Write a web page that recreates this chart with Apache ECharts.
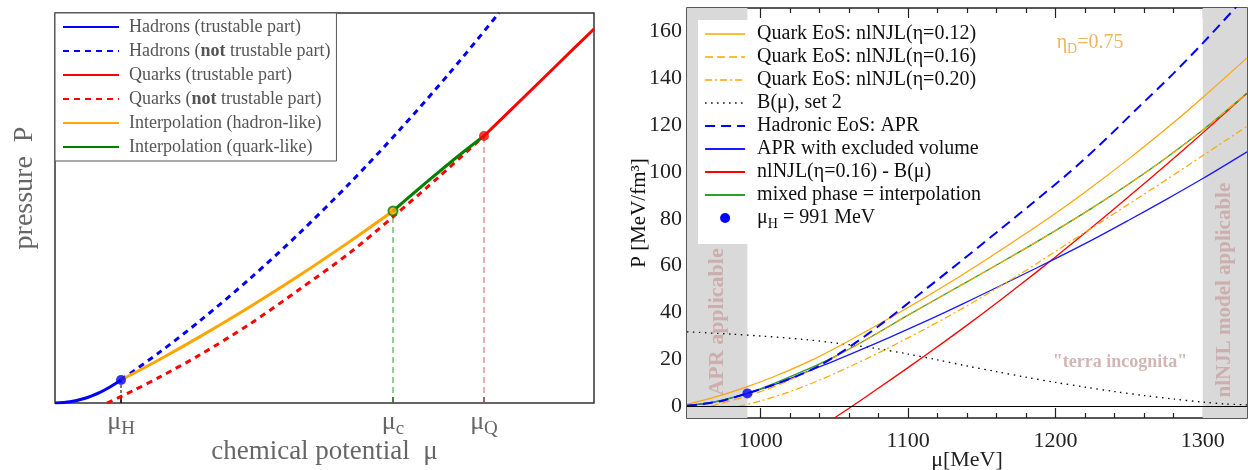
<!DOCTYPE html>
<html>
<head>
<meta charset="utf-8">
<script src="https://cdn.jsdelivr.net/npm/echarts@6/dist/echarts.min.js"></script>
<style>
  html, body { margin: 0; padding: 0; background: #fff; }
  #chart { width: 1248px; height: 470px; }
</style>
</head>
<body>
<div id="chart"></div>
<script>
// ---------- Left panel: schematic P(mu), arbitrary units (0..100 on both axes) ----------
const hadTrustX = [0, 2.78, 5.57, 8.35, 10.2, 12.25];
const hadTrustY = [0, 0.31, 1.22, 2.74, 4.10, 5.90];
const hadNotX = [12.25, 19.48, 26.90, 36.18, 45.45, 54.73, 64.00, 73.28, 82.37];
const hadNotY = [5.90, 13.10, 21.08, 31.90, 43.69, 56.41, 70.10, 84.72, 100];
const interpHadX = [12.25, 19.48, 26.90, 36.18, 45.45, 54.73, 62.71];
const interpHadY = [5.90, 11.23, 17.03, 24.69, 32.82, 41.44, 49.23];
const quarkNotX = [9.65, 14.47, 19.48, 26.90, 36.18, 45.45, 54.73, 62.71, 71.43, 79.59];
const quarkNotY = [0, 3.15, 6.69, 12.36, 20.28, 29.23, 38.56, 47.74, 58.23, 68.46];
const interpQuarkX = [62.71, 66.79, 71.43, 75.51, 79.59];
const interpQuarkY = [49.23, 54.10, 59.49, 64.10, 68.46];
const quarkTrustX = [79.59, 86.27, 93.69, 100];
const quarkTrustY = [68.46, 77.44, 87.44, 95.9];
// special chemical potentials: mu_H, mu_c, mu_Q and the pressure there
const specialX = [12.25, 62.71, 79.59];
const specialY = [5.90, 49.23, 68.46];
const specialSub = ['H', 'c', 'Q'];

// ---------- Right panel: P [MeV/fm^3] vs mu [MeV] ----------
const muEta12 = [950, 970, 991, 1010, 1035, 1060, 1090, 1120, 1150, 1190, 1220, 1250, 1280, 1300, 1330];
const pEta12 = [0.8, 4.1, 8.4, 12.9, 19.8, 28.0, 38.5, 49.6, 61.4, 78.0, 91.4, 105.7, 121.0, 131.8, 148.7];
const muEta16 = [966, 980, 991, 1010, 1030, 1045, 1062, 1080, 1100, 1125, 1150, 1175, 1200, 1225, 1250, 1275, 1300, 1330];
const pEta16 = [0, 2.4, 4.4, 8.6, 14.2, 19.2, 25.0, 31.5, 38.9, 47.8, 56.7, 65.7, 75.0, 84.7, 95.0, 106.0, 117.9, 133.6];
const muEta20 = [985, 1000, 1020, 1040, 1060, 1080, 1100, 1125, 1150, 1175, 1190, 1220, 1250, 1275, 1300, 1330];
const pEta20 = [0, 2.3, 6.3, 11.2, 16.8, 22.8, 29.2, 37.6, 46.5, 56.0, 62.0, 74.2, 86.4, 96.6, 107.0, 119.5];
const muBag = [950, 980, 1000, 1030, 1060, 1080, 1100, 1120, 1140, 1160, 1180, 1200, 1220, 1240, 1260, 1280, 1300, 1315, 1330];
const pBag = [31.8, 30.8, 30.0, 28.5, 26.3, 24.5, 22.3, 19.8, 17.2, 14.8, 12.4, 10.2, 8.2, 6.3, 4.6, 3.1, 1.8, 1.0, 0.6];
const muAPR = [950, 960, 975, 991, 1008, 1025, 1040, 1060, 1085, 1110, 1135, 1162, 1185, 1208, 1230, 1257, 1280, 1300, 1322, 1335];
const pAPR = [0.3, 0.9, 2.5, 5.5, 9.0, 13.0, 17.4, 25.2, 36.6, 49.0, 61.5, 75.2, 87.0, 99.0, 111.5, 128.0, 142.0, 155.0, 170.0, 179.0];
const muExcl = [950, 970, 991, 1010, 1030, 1050, 1075, 1100, 1125, 1150, 1175, 1200, 1225, 1250, 1275, 1300, 1330];
const pExcl = [0.3, 2.0, 5.5, 9.4, 14.4, 19.4, 26.0, 32.9, 40.1, 47.6, 55.3, 63.0, 71.0, 79.5, 88.2, 97.2, 108.6];
const muQuarkB = [1050, 1062, 1080, 1100, 1125, 1150, 1175, 1200, 1225, 1250, 1275, 1300, 1330];
const pQuarkB = [-5.0, 0, 7.8, 16.5, 27.7, 39.3, 51.3, 63.7, 76.5, 89.6, 103.0, 116.7, 133.6];
const muMixed = [950, 970, 991, 1010, 1030, 1045, 1062, 1080, 1100, 1125, 1150, 1175, 1200, 1225, 1250, 1275, 1300, 1330];
const pMixed = [0.3, 2.1, 5.5, 10.0, 15.3, 19.6, 25.1, 31.5, 38.9, 47.8, 56.7, 65.7, 75.0, 84.7, 95.0, 106.0, 117.9, 133.6];
const muH = [991];
const pH = [5.5];
// applicability windows
const aprBand = [950, 991];
const njlBand = [1300, 1330];
// axis ticks
const muMajor = [1000, 1100, 1200, 1300];
const muMinor = [960, 980, 1020, 1040, 1060, 1080, 1120, 1140, 1160, 1180, 1220, 1240, 1260, 1280, 1320];
const pMajor = [0, 20, 40, 60, 80, 100, 120, 140, 160];
const pMinor = [10, 30, 50, 70, 90, 110, 130, 150];

const SERIF = '"Liberation Serif", "DejaVu Serif", serif';
const zip = (xs, ys) => xs.map((x, i) => [x, ys[i]]);

const leftNames = ['Hadrons (trustable part)', 'Hadrons (not trustable part)', 'Quarks (trustable part)',
  'Quarks (not trustable part)', 'Interpolation (hadron-like)', 'Interpolation (quark-like)'];
const rightNames = ['Quark EoS: nlNJL(η=0.12)', 'Quark EoS: nlNJL(η=0.16)', 'Quark EoS: nlNJL(η=0.20)',
  'B(μ), set 2', 'Hadronic EoS: APR', 'APR with excluded volume', 'nlNJL(η=0.16) - B(μ)',
  'mixed phase = interpolation', 'μH = 991 MeV'];
// legend sample line widths (the key draws its samples a bit bolder than the curves)
const rightKeyWidths = [1.4, 1.4, 1.4, 1.3, 2.2, 2, 2, 2, 0];

function leftLine(name, xs, ys, color, type, z) {
  return {
    name, type: 'line', xAxisIndex: 0, yAxisIndex: 0, data: zip(xs, ys),
    symbol: 'none', smooth: 0.3, z,
    lineStyle: { color, width: 3, type }, itemStyle: { color }
  };
}
function guide(x, y, color, type) {
  return {
    type: 'line', xAxisIndex: 0, yAxisIndex: 0, data: [[x, 0], [x, y]],
    symbol: 'none', silent: true, z: 1,
    lineStyle: { color, width: 1.2, type }
  };
}
function rightLine(name, xs, ys, color, width, type, z) {
  return {
    name, type: 'line', xAxisIndex: 1, yAxisIndex: 1, data: zip(xs, ys),
    symbol: 'none', smooth: 0.3, z, clip: true,
    lineStyle: { color, width, type }, itemStyle: { color }
  };
}
function minorAxis(dim, position, values, len) {
  const a = {
    gridIndex: 1, type: 'value', position,
    axisLine: { show: false, onZero: false }, splitLine: { show: false },
    axisLabel: { show: false },
    axisTick: { show: true, inside: true, length: len, customValues: values, lineStyle: { color: '#222', width: 1.2 } }
  };
  if (dim === 'x') { a.min = 950; a.max = 1330; } else { a.min = -5; a.max = 170; }
  return a;
}

const noteStyle = { fontFamily: SERIF, fontWeight: 'bold', color: '#c9a3a3' };

const option = {
  animation: false,
  backgroundColor: '#fff',
  grid: [
    { left: 55, top: 13, width: 539, height: 390, show: true, borderColor: '#333', borderWidth: 1.5,
      backgroundColor: 'transparent', outerBoundsMode: 'none', containLabel: false },
    { left: 687, top: 8, width: 560, height: 410, show: true, borderColor: '#222', borderWidth: 1.5,
      backgroundColor: 'transparent', outerBoundsMode: 'none', containLabel: false }
  ],
  xAxis: [
    {
      gridIndex: 0, type: 'value', min: 0, max: 100, position: 'bottom',
      axisLine: { show: false, onZero: false }, splitLine: { show: false },
      axisTick: { show: true, inside: true, length: 6, customValues: specialX, lineStyle: { color: '#000', width: 1.5 } },
      axisLabel: {
        customValues: specialX, margin: 3,
        formatter: v => {
          let k = 0;
          specialX.forEach((s, i) => { if (Math.abs(s - v) < Math.abs(specialX[k] - v)) k = i; });
          return '{m|μ}{s|' + specialSub[k] + '}';
        },
        rich: {
          m: { fontFamily: SERIF, fontSize: 26, color: '#666', verticalAlign: 'middle' },
          s: { fontFamily: SERIF, fontSize: 19, color: '#666', verticalAlign: 'bottom', padding: [14, 0, 0, 0] }
        }
      },
      name: 'chemical potential  μ', nameLocation: 'middle', nameGap: 35, nameMoveOverlap: false,
      nameTextStyle: { fontFamily: SERIF, fontSize: 27, color: '#666' }
    },
    {
      gridIndex: 1, type: 'value', min: 950, max: 1330, position: 'bottom',
      axisLine: { show: false, onZero: false }, splitLine: { show: false },
      axisTick: { show: true, inside: true, length: 10, customValues: muMajor, lineStyle: { color: '#222', width: 1.2 } },
      axisLabel: { customValues: muMajor, formatter: v => String(v), fontFamily: SERIF, fontSize: 22, color: '#222', margin: 12 },
      name: 'μ[MeV]', nameLocation: 'middle', nameGap: 31, nameMoveOverlap: false,
      nameTextStyle: { fontFamily: SERIF, fontSize: 22, color: '#222' }
    },
    minorAxis('x', 'bottom', muMinor, 5),
    minorAxis('x', 'top', muMajor, 10),
    minorAxis('x', 'top', muMinor, 5)
  ],
  yAxis: [
    {
      gridIndex: 0, type: 'value', min: 0, max: 100,
      axisLine: { show: false, onZero: false }, splitLine: { show: false },
      axisTick: { show: false }, axisLabel: { show: false },
      name: 'pressure  P', nameLocation: 'middle', nameGap: 16, nameRotate: 90, nameMoveOverlap: false,
      nameTextStyle: { fontFamily: SERIF, fontSize: 28, color: '#666', padding: [0, 0, 0, 40] }
    },
    {
      gridIndex: 1, type: 'value', min: -5, max: 170, position: 'left',
      axisLine: { show: false, onZero: false }, splitLine: { show: false },
      axisTick: { show: true, inside: true, length: 10, customValues: pMajor, lineStyle: { color: '#222', width: 1.2 } },
      axisLabel: { customValues: pMajor, formatter: v => String(v), fontFamily: SERIF, fontSize: 22, color: '#222', margin: 5 },
      name: 'P [MeV/fm³]', nameLocation: 'middle', nameGap: 37, nameRotate: 90, nameMoveOverlap: false,
      nameTextStyle: { fontFamily: SERIF, fontSize: 21, color: '#111' }
    },
    minorAxis('y', 'left', pMinor, 5),
    minorAxis('y', 'right', pMajor, 10),
    minorAxis('y', 'right', pMinor, 5)
  ],
  legend: [
    {
      data: leftNames, orient: 'vertical', left: 55, top: 13,
      itemWidth: 56, itemHeight: 14, itemGap: 6, padding: [5, 6, 5, 7],
      backgroundColor: '#fff', borderColor: '#555', borderWidth: 1, borderRadius: 0,
      selectedMode: false,
      itemStyle: { opacity: 0 },
      formatter: n => n.replace('(not ', '({b|not} '),
      textStyle: {
        fontFamily: SERIF, fontSize: 18, color: '#555', padding: [0, 0, 0, 5],
        rich: { b: { fontFamily: SERIF, fontSize: 18, color: '#555', fontWeight: 'bold' } }
      }
    },
    {
      data: rightNames.map((n, i) => n === 'μH = 991 MeV'
        ? { name: n, itemStyle: { opacity: 1 } }
        : { name: n, lineStyle: { width: rightKeyWidths[i] } }),
      orient: 'vertical', left: 698, top: 20,
      itemWidth: 40, itemHeight: 10, itemGap: 3, padding: [4, 10, 13, 6],
      backgroundColor: '#fff', borderWidth: 0, selectedMode: false,
      itemStyle: { opacity: 0 },
      formatter: n => n === 'μH = 991 MeV' ? '{a|μ}{h|H}{a| = 991 MeV}' : n,
      textStyle: {
        fontFamily: SERIF, fontSize: 20, color: '#111', padding: [0, 0, 0, 7],
        rich: {
          a: { fontFamily: SERIF, fontSize: 20, color: '#111', verticalAlign: 'middle' },
          h: { fontFamily: SERIF, fontSize: 14, color: '#111', verticalAlign: 'bottom', padding: [12, 0, 0, 0] }
        }
      }
    }
  ],
  series: [
    // left panel
    guide(specialX[0], specialY[0], '#222', [3, 2]),
    guide(specialX[1], specialY[1], '#55aa55', [6, 4]),
    guide(specialX[2], specialY[2], '#d97a7a', [6, 4]),
    leftLine('Quarks (not trustable part)', quarkNotX, quarkNotY, '#ff0000', [6, 5], 2),
    leftLine('Hadrons (not trustable part)', hadNotX, hadNotY, '#0000ff', [6, 5], 2),
    leftLine('Hadrons (trustable part)', hadTrustX, hadTrustY, '#0000ff', 'solid', 3),
    leftLine('Interpolation (hadron-like)', interpHadX, interpHadY, '#ffa500', 'solid', 3),
    leftLine('Interpolation (quark-like)', interpQuarkX, interpQuarkY, '#008000', 'solid', 3),
    leftLine('Quarks (trustable part)', quarkTrustX, quarkTrustY, '#ff0000', 'solid', 3),
    {
      type: 'scatter', xAxisIndex: 0, yAxisIndex: 0, silent: true, z: 5,
      symbolSize: 10,
      data: [
        { value: [specialX[0], specialY[0]], itemStyle: { color: '#0000ff' } },
        { value: [specialX[1], specialY[1]], symbolSize: 9, itemStyle: { color: '#ffa500', borderColor: '#008000', borderWidth: 2 } },
        { value: [specialX[2], specialY[2]], itemStyle: { color: '#ff0000' } }
      ]
    },
    // right panel
    Object.assign(rightLine('B(μ), set 2', muBag, pBag, '#000', 1.3, [1.5, 4.5], 2), {
      markArea: {
        silent: true, itemStyle: { color: '#d9d9d9' },
        data: [[{ xAxis: aprBand[0] }, { xAxis: aprBand[1] }], [{ xAxis: njlBand[0] }, { xAxis: njlBand[1] }]]
      },
      markLine: {
        silent: true, symbol: 'none', label: { show: false },
        lineStyle: { color: '#000', width: 1.2, type: 'solid' },
        data: [{ yAxis: 0 }]
      }
    }),
    rightLine('nlNJL(η=0.16) - B(μ)', muQuarkB, pQuarkB, '#ff0000', 1.3, 'solid', 3),
    rightLine('APR with excluded volume', muExcl, pExcl, '#1a1aff', 1.3, 'solid', 3),
    rightLine('mixed phase = interpolation', muMixed, pMixed, '#2ca02c', 1.3, 'solid', 3),
    rightLine('Quark EoS: nlNJL(η=0.20)', muEta20, pEta20, '#ffa500', 1.2, [7, 3, 2, 3], 4),
    rightLine('Quark EoS: nlNJL(η=0.16)', muEta16, pEta16, '#ffa500', 1.2, [8, 4], 4),
    rightLine('Quark EoS: nlNJL(η=0.12)', muEta12, pEta12, '#ffa500', 1.2, 'solid', 4),
    rightLine('Hadronic EoS: APR', muAPR, pAPR, '#0000ff', 2, [10, 6], 4),
    {
      name: 'μH = 991 MeV', type: 'scatter', xAxisIndex: 1, yAxisIndex: 1, z: 6, silent: true,
      symbolSize: 10, itemStyle: { color: '#0000ff' }, data: zip(muH, pH)
    },
    {
      type: 'scatter', xAxisIndex: 1, yAxisIndex: 1, z: 7, silent: true,
      symbolSize: 1, itemStyle: { color: 'rgba(0,0,0,0)' },
      label: { show: true, position: 'inside' },
      data: [
        { value: [970.5, 36], label: Object.assign({ formatter: 'APR applicable', rotate: 90, fontSize: 22 }, noteStyle) },
        { value: [1315, 49.6], label: Object.assign({ formatter: 'nlNJL model applicable', rotate: 90, fontSize: 21 }, noteStyle) },
        { value: [1243.8, 18.9], label: Object.assign({ formatter: '"terra incognita"', fontSize: 18 }, noteStyle) },
        {
          value: [1223.5, 155],
          label: {
            formatter: '{e|η}{d|D}{e|=0.75}',
            rich: {
              e: { fontFamily: SERIF, fontSize: 20, color: '#f0a030', verticalAlign: 'middle' },
              d: { fontFamily: SERIF, fontSize: 14, color: '#f0a030', verticalAlign: 'bottom', padding: [12, 0, 0, 0] }
            }
          }
        }
      ]
    }
  ]
};

const chart = echarts.init(document.getElementById('chart'), null, { renderer: 'canvas' });
chart.setOption(option);
</script>
</body>
</html>
